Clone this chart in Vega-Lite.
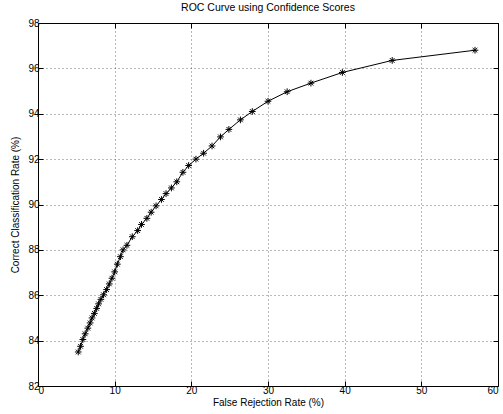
{
  "$schema": "https://vega.github.io/schema/vega-lite/v6.json",
  "width": 460,
  "height": 363,
  "autosize": {"type": "none"},
  "padding": {"left": 38, "top": 23, "right": 5, "bottom": 28},
  "background": "white",
  "title": {"text": "ROC Curve using Confidence Scores", "font": "Liberation Sans", "fontSize": 10.5, "fontWeight": "normal", "color": "black", "offset": 5},
  "config": {
    "view": {"stroke": "black", "strokeWidth": 1},
    "axis": {"labelFont": "Liberation Sans", "titleFont": "Liberation Sans", "labelFontSize": 10, "titleFontSize": 10, "titleFontWeight": "normal", "labelColor": "black", "titleColor": "black", "tickColor": "black", "domain": false, "tickSize": -5, "gridColor": "black", "gridDash": [1, 3], "gridOpacity": 0.55}
  },
  "data": {"values": [
    {"frr": 5.25, "ccr": 83.5},
    {"frr": 5.55, "ccr": 83.75},
    {"frr": 5.85, "ccr": 84.05},
    {"frr": 6.15, "ccr": 84.3},
    {"frr": 6.5, "ccr": 84.55},
    {"frr": 6.8, "ccr": 84.78},
    {"frr": 7.05, "ccr": 85.0},
    {"frr": 7.35, "ccr": 85.2},
    {"frr": 7.65, "ccr": 85.42},
    {"frr": 7.9, "ccr": 85.62},
    {"frr": 8.2, "ccr": 85.82},
    {"frr": 8.55, "ccr": 86.02},
    {"frr": 8.95, "ccr": 86.25},
    {"frr": 9.3, "ccr": 86.5},
    {"frr": 9.65, "ccr": 86.75},
    {"frr": 10.0, "ccr": 87.03},
    {"frr": 10.35, "ccr": 87.37},
    {"frr": 10.75, "ccr": 87.7},
    {"frr": 11.1, "ccr": 88.0},
    {"frr": 11.6, "ccr": 88.2},
    {"frr": 12.3, "ccr": 88.58},
    {"frr": 13.0, "ccr": 88.85},
    {"frr": 13.5, "ccr": 89.12},
    {"frr": 14.2, "ccr": 89.39},
    {"frr": 14.76, "ccr": 89.66},
    {"frr": 15.4, "ccr": 89.94},
    {"frr": 16.1, "ccr": 90.22},
    {"frr": 16.7, "ccr": 90.48},
    {"frr": 17.4, "ccr": 90.73},
    {"frr": 18.1, "ccr": 91.0},
    {"frr": 18.9, "ccr": 91.42},
    {"frr": 19.65, "ccr": 91.72},
    {"frr": 20.6, "ccr": 92.0},
    {"frr": 21.6, "ccr": 92.26},
    {"frr": 22.7, "ccr": 92.58},
    {"frr": 23.8, "ccr": 92.98},
    {"frr": 24.9, "ccr": 93.31},
    {"frr": 26.4, "ccr": 93.73},
    {"frr": 27.95, "ccr": 94.1},
    {"frr": 30.0, "ccr": 94.55},
    {"frr": 32.5, "ccr": 94.97},
    {"frr": 35.6, "ccr": 95.35},
    {"frr": 39.7, "ccr": 95.82},
    {"frr": 46.2, "ccr": 96.35},
    {"frr": 57.0, "ccr": 96.8}
  ]},
  "layer": [
    {
      "mark": {"type": "line", "color": "black", "strokeWidth": 1},
      "encoding": {
        "x": {"field": "frr", "type": "quantitative", "scale": {"domain": [0, 60], "nice": false, "zero": false}, "axis": {"values": [0, 10, 20, 30, 40, 50, 60], "title": "False Rejection Rate (%)", "grid": true, "labelPadding": 4, "titlePadding": 2}},
        "y": {"field": "ccr", "type": "quantitative", "scale": {"domain": [82, 98], "nice": false, "zero": false}, "axis": {"values": [82, 84, 86, 88, 90, 92, 94, 96, 98], "title": "Correct Classification Rate (%)", "grid": true, "labelPadding": 4, "titlePadding": 7}}
      }
    },
    {
      "mark": {"type": "point", "shape": "M-1,0L1,0M0,-1L0,1M-0.7,-0.7L0.7,0.7M-0.7,0.7L0.7,-0.7", "filled": false, "stroke": "black", "strokeWidth": 1, "size": 45, "opacity": 1},
      "encoding": {
        "x": {"field": "frr", "type": "quantitative", "scale": {"domain": [0, 60], "nice": false, "zero": false}, "axis": {"values": [0, 10, 20, 30, 40, 50, 60], "title": null, "labels": false, "grid": false}},
        "y": {"field": "ccr", "type": "quantitative", "scale": {"domain": [82, 98], "nice": false, "zero": false}, "axis": {"values": [82, 84, 86, 88, 90, 92, 94, 96, 98], "title": null, "labels": false, "grid": false}}
      }
    }
  ],
  "resolve": {"axis": {"x": "independent", "y": "independent"}}
}
